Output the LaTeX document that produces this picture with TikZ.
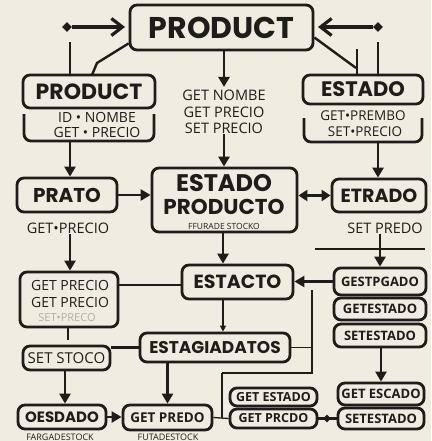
\documentclass[tikz,border=0pt]{standalone}
\usepackage{fontspec}
\usetikzlibrary{arrows.meta,shapes.geometric}
\newfontfamily\tfont{Poppins}
\newfontfamily\bfont{Open Sans}
\definecolor{bg}{HTML}{F1ECE2}
\definecolor{ink}{HTML}{1F1D1A}
\definecolor{faded}{HTML}{B3AEA6}
\begin{document}
\begin{tikzpicture}[x=1pt,y=-1pt,
  every node/.style={text=ink},
  box/.style={draw=ink, line width=2.8pt, rounded corners=7pt, inner sep=0pt},
  ttl/.style={font=\tfont\bfseries\fontsize{#1}{#1}\selectfont, inner sep=0pt},
  lbl/.style={font=\bfont\fontsize{#1}{#1}\selectfont, inner sep=0pt},
  blbl/.style={font=\bfont\bfseries\fontsize{#1}{#1}\selectfont, inner sep=0pt},
  ln/.style={draw=ink, line width=2.4pt},
  thinln/.style={draw=ink, line width=1.3pt},
  arr/.style={draw=ink, line width=2.6pt, -{Triangle[length=10pt,width=11pt]}},
  chev/.style={draw=ink, line width=3.2pt, -{Straight Barb[length=11pt,width=17pt]}},
  arrs/.style={draw=ink, line width=1.8pt, -{Triangle[length=6pt,width=6pt]}},
  darr/.style={draw=ink, line width=2.6pt, {Triangle[length=9pt,width=11pt]}-{Triangle[length=9pt,width=11pt]}},
  dia/.style={diamond, fill=ink, inner sep=0pt, minimum size=10pt}]
\fill[bg] (0,0) rectangle (431,441);
\useasboundingbox (0,0) rectangle (431,441);

% ---------- top ----------
\node[box, minimum width=183pt, minimum height=45pt, ttl=30] (top) at (221.5,27.5) {PRODUCT};
\node[dia] (dL) at (67,27) {};
\node[dia] (dR) at (378,27) {};
\coordinate (tLa) at (125,27);
\coordinate (tRa) at (318,27);
\draw[chev] (dL.east) -- (tLa);
\draw[chev] (dR.west) -- (tRa);

% left upper box
\node[box, minimum width=132pt, minimum height=33pt, ttl=22] (lpT) at (89,91.5) {PRODUCT};
\coordinate (lpB1) at (24,114);
\coordinate (lpB2) at (154,114);
\draw[box] (lpB1) -- (24,141) -- (154,141) -- (lpB2);
\node[lbl=14] (lp1) at (97,117) {ID • NOMBE};
\node[lbl=14] (lp2) at (97,132) {GET • PRECIO};
\coordinate (lpS) at (70,141);
\coordinate (a1) at (70,42);
\draw[ln] (a1) -- (a1 |- lpT.north);
\coordinate (a2) at (97,63);
\draw[ln] ([yshift=8pt]top.south west) -- (a2) -- (92,75);

% right upper box
\node[box, minimum width=120pt, minimum height=29pt, ttl=21] (rpT) at (363,89.5) {ESTADO};
\coordinate (rpB1) at (304,118);
\coordinate (rpB2) at (422,118);
\draw[box] (rpB1) -- (304,142) -- (422,142) -- (rpB2);
\node[lbl=13.5] (rp1) at (363,116) {GET•PREMBO};
\node[lbl=13.5] (rp2) at (365,132) {SET•PRECIO};
\coordinate (rpS) at (378,142);
\coordinate (b1) at (378,42);
\draw[ln] (b1) -- (b1 |- rpT.north);
\coordinate (b2) at (357,49);
\draw[ln] (b2) -- (b2 |- rpT.north);
\coordinate (b3) at (356,68);
\draw[ln] ([yshift=-10pt]top.east) -- (b3);

% center text
\node[lbl=14, align=center, font=\bfont\fontsize{14.5}{16.5}\selectfont] (ct) at (224,112) {GET NOMBE\\GET PRECIO\\SET PRECIO};
\draw[arr] (top.south -| ct.north) -- ([yshift=3pt]ct.north);

% ---------- row 2 ----------
\node[box, minimum width=100pt, minimum height=34pt, ttl=20] (pr) at (67,195) {PRATO};
\node[lbl=14.5] (prt) at (68,228) {GET•PRECIO};
\node[box, minimum width=145pt, minimum height=64pt] (EP) at (224.5,200) {};
\node[ttl=24] (EP1) at (224,183.5) {ESTADO};
\node[ttl=21.5] (EP2) at (224,207) {PRODUCTO};
\node[lbl=8.5] (EP3) at (224,226) {FFURADE STOCKO};
\node[box, minimum width=94pt, minimum height=33pt, ttl=19] (et) at (379,195.5) {ETRADO};
\node[lbl=14.5] (ett) at (385,228) {SET PREDO};
\coordinate (h1) at (315,249);
\coordinate (h2) at (425,249);
\draw[thinln] (h1) -- (h2);

\draw[arr] (lpS) -- (lpS |- pr.north);
\draw[arr] (rpS) -- (rpS |- et.north);
\draw[arr] (ct.south) -- (ct.south |- EP.north);
\draw[arr] (pr.east) -- (pr.east -| EP.west);
\draw[darr] (EP.east |- et.west) -- (et.west);

% ---------- row 3 ----------
\node[box, minimum width=98pt, minimum height=55pt] (lb3) at (69,299.5) {};
\node[lbl=14] (lb31) at (70,285) {GET PRECIO};
\node[lbl=14] (lb32) at (70,302) {GET PRECIO};
\node[lbl=11, text=faded] (lb33) at (67,318) {SET•PRECO};
\node[box, minimum width=111pt, minimum height=34pt, ttl=19] (ES) at (237.5,282) {ESTACTO};
\node[box, minimum width=92pt, minimum height=27pt, blbl=13] (g1) at (380,281.5) {GESTPGADO};
\node[box, minimum width=92pt, minimum height=22pt, blbl=13] (g2) at (380,309) {GETESTADO};
\node[box, minimum width=92pt, minimum height=23pt, blbl=13] (g3) at (380,335.5) {SETESTADO};

\draw[arr] (prt.south -| lpS) -- (lpS |- lb3.north);
\draw[arr] (ett.south -| g1.north) -- (g1.north);
\draw[ln] ([yshift=-3pt]ES.west) -- ([yshift=-3pt]ES.west -| lb3.east);
\draw[arr] (g1.west) -- (g1.west -| ES.east);
\draw[arr] (EP.south -| 223,0) -- (223,0 |- ES.north);

% ---------- row 4 ----------
\node[box, minimum width=150pt, minimum height=29pt, ttl=17] (esd) at (215,347.5) {ESTAGIADATOS};
\node[box, minimum width=87pt, minimum height=24pt, lbl=15] (ss) at (66.5,358) {SET STOCO};
\draw[arrs] (ES.south -| 223,0) -- (223,0 |- esd.north);
\coordinate (l1) at (68,340);
\draw[ln] (lb3.south -| l1) -- (l1);
\draw[ln] (esd.west) -- (esd.west -| ss.east);
\coordinate (v1) at (312,290);
\coordinate (v2) at (312,373);
\coordinate (v3) at (222,373);
\draw[thinln] (esd.east) -- (esd.east -| v1);
\draw[thinln] (v1) -- (v2) -- (v3);

% ---------- row 5 ----------
\node[box, minimum width=88pt, minimum height=24pt, ttl=15] (oe) at (62,417) {OESDADO};
\node[lbl=9] (oet) at (60,437) {FARGADESTOCK};
\node[box, minimum width=89pt, minimum height=25pt, blbl=13.5] (gpd) at (167.5,417.5) {GET PREDO};
\node[lbl=9] (gpdt) at (168,437) {FUTADESTOCK};
\node[box, minimum width=87pt, minimum height=18pt, blbl=12.5] (ge1) at (273.5,397) {GET ESTADO};
\node[box, minimum width=87pt, minimum height=19pt, blbl=12.5] (ge2) at (273.5,418.5) {GET PRCDO};
\node[box, minimum width=86pt, minimum height=22pt, blbl=13] (ge3) at (381,394) {GET ESCADO};
\node[box, minimum width=86pt, minimum height=21pt, blbl=13] (ge4) at (381,418.5) {SETESTADO};
\node[dia, minimum size=8pt] (dm) at (327,418.5) {};

\draw[arr] (ss.south -| 65,0) -- (65,0 |- oe.north);
\draw[arr] (oe.east) -- (oe.east -| gpd.west);
\draw[arr] (esd.south -| gpd.north) -- (gpd.north);
\draw[thinln] (v3) -- (v3 |- gpd.east);
\draw[thinln] (gpd.east) -- (ge2.west);
\draw[ln] (ge2.east) -- (ge4.west);
\draw[arr] (g3.south -| ge3.north) -- (ge3.north);
\end{tikzpicture}
\end{document}
